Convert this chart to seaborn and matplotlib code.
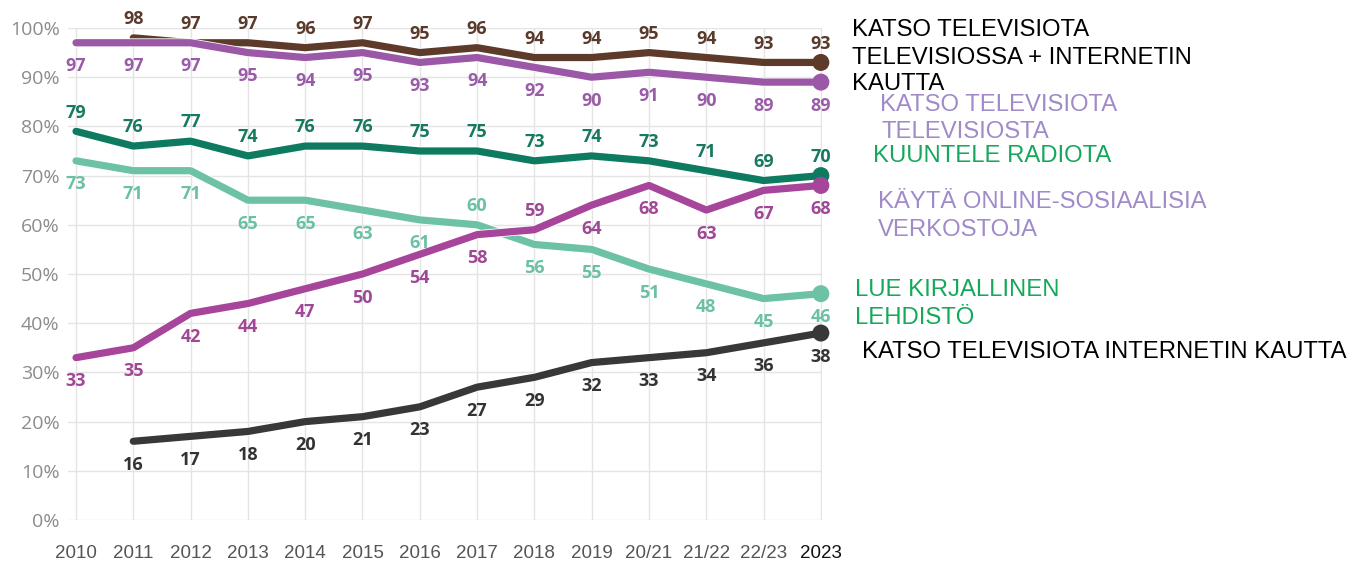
import numpy as np
import pandas as pd
import matplotlib
matplotlib.use("Agg")
import matplotlib.pyplot as plt
import matplotlib.patheffects as pe
import seaborn as sns

# ---------------- data ----------------
periods = ["2010", "2011", "2012", "2013", "2014", "2015", "2016", "2017",
           "2018", "2019", "20/21", "21/22", "22/23", "2023"]
nan = np.nan
tv_total = [nan, 98, 97, 97, 96, 97, 95, 96, 94, 94, 95, 94, 93, 93]
tv_on_tv = [97, 97, 97, 95, 94, 95, 93, 94, 92, 90, 91, 90, 89, 89]
radio = [79, 76, 77, 74, 76, 76, 75, 75, 73, 74, 73, 71, 69, 70]
press = [73, 71, 71, 65, 65, 63, 61, 60, 56, 55, 51, 48, 45, 46]
social = [33, 35, 42, 44, 47, 50, 54, 58, 59, 64, 68, 63, 67, 68]
tv_internet = [nan, 16, 17, 18, 20, 21, 23, 27, 29, 32, 33, 34, 36, 38]
y_ticks = [0, 10, 20, 30, 40, 50, 60, 70, 80, 90, 100]
y_tick_labels = [f"{v}%" for v in y_ticks]

series_names = ["tv_internet", "press", "radio", "tv_total", "tv_on_tv", "social"]
series_values = [tv_internet, press, radio, tv_total, tv_on_tv, social]

# ---------------- style ----------------
line_colors = {"tv_total": "#5e3a2b", "tv_on_tv": "#9a58a6", "radio": "#0e7b60",
               "press": "#6dc2a6", "social": "#a6459a", "tv_internet": "#383838"}
label_colors = {"tv_total": "#5a3a2c", "tv_on_tv": "#9a5ca8", "radio": "#17795f",
                "press": "#6cc0a4", "social": "#a04896", "tv_internet": "#333333"}
# label placement: +1 above the line, -1 below
placement = {
    "tv_total": [1] * 14,
    "tv_on_tv": [-1] * 14,
    "radio": [1] * 14,
    "press": [-1] * 7 + [1] + [-1] * 6,
    "social": [-1] * 8 + [1] + [-1] * 5,
    "tv_internet": [-1] * 14,
}

rows = []
for name, vals in zip(series_names, series_values):
    for i, v in enumerate(vals):
        if not np.isnan(v):
            rows.append({"series": name, "x": i, "value": v})
df = pd.DataFrame(rows)

sns.set_style("white")
plt.rcParams["font.family"] = ["Open Sans", "DejaVu Sans"]

W, H = 1351, 565
fig = plt.figure(figsize=(W / 100, H / 100), dpi=100)
ax = fig.add_axes([68 / W, 45 / H, (822 - 68) / W, (520 - 28) / H])

for k, name in enumerate(series_names):
    sub = df[df["series"] == name]
    sns.lineplot(data=sub, x="x", y="value", ax=ax, color=line_colors[name],
                 lw=5.2, sort=False, zorder=3 + k, legend=False,
                 path_effects=[pe.Stroke(linewidth=6.4, foreground="white"), pe.Normal()])
    last = sub.iloc[[-1]]
    sns.scatterplot(data=last, x="x", y="value", ax=ax, color=line_colors[name],
                    s=150, edgecolor="none", zorder=3.5 + k, legend=False, clip_on=False)
    for (xi, v), pl in zip(zip(sub["x"], sub["value"]),
                           [placement[name][i] for i in sub["x"]]):
        dy = 13.5 if pl > 0 else -17
        ax.annotate(f"{int(v)}", (xi, v), xytext=(0, dy), textcoords="offset points",
                    ha="center", va="center", fontsize=13, fontweight="bold",
                    color=label_colors[name], zorder=20, annotation_clip=False)

ax.set_xlim(-0.14, 13.02)
ax.set_ylim(0, 100)
ax.set_xticks(range(len(periods)))
ax.set_xticklabels(periods)
ax.set_yticks(y_ticks)
ax.set_yticklabels(y_tick_labels)
ax.set_xlabel("")
ax.set_ylabel("")
for s in ax.spines.values():
    s.set_visible(False)
ax.grid(True, color="#e4e4e4", lw=1.0, zorder=0)
ax.set_axisbelow(True)
ax.tick_params(axis="y", length=0, pad=6, labelsize=14, labelcolor="#8c8c8c")
ax.tick_params(axis="x", length=11, width=1.1, color="#a0a0a0", pad=7,
               labelsize=13.5, labelcolor="#555555", direction="out")
for lab in ax.get_xticklabels():
    lab.set_family(["Liberation Sans", "DejaVu Sans"])
for lab in ax.get_yticklabels():
    lab.set_family(["Open Sans", "DejaVu Sans"])
xl = ax.get_xticklabels()
xl[-1].set_color("#111111")

# right-hand annotations (left x px, centre y px, text, colour)
black = "#000000"
lilac = "#a08ac8"
green = "#14a85a"
notes = [
    (852, 28, "KATSO TELEVISIOTA", black),
    (852, 55, "TELEVISIOSSA + INTERNETIN", black),
    (852, 82, "KAUTTA", black),
    (880, 102, "KATSO TELEVISIOTA", lilac),
    (881, 129, "TELEVISIOSTA", lilac),
    (873, 154, "KUUNTELE RADIOTA", green),
    (878, 200, "KÄYTÄ ONLINE-SOSIAALISIA", lilac),
    (878, 227, "VERKOSTOJA", lilac),
    (855, 288, "LUE KIRJALLINEN", green),
    (855, 315, "LEHDISTÖ", green),
    (862, 349, "KATSO TELEVISIOTA INTERNETIN KAUTTA", black),
]
for xp, yp, txt, col in notes:
    fig.text(xp / W, 1 - (yp + 8.5) / H, txt, ha="left", va="baseline",
             fontsize=17.2, color=col, family=["Liberation Sans", "DejaVu Sans"])

fig.savefig("out.png", dpi=100)
